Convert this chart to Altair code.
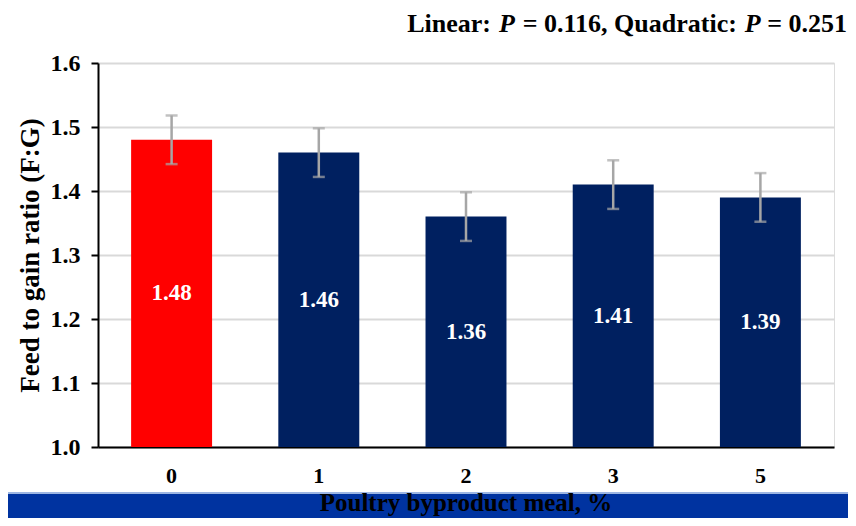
import altair as alt
import pandas as pd

categories = ["0", "1", "2", "3", "5"]
values = [1.48, 1.46, 1.36, 1.41, 1.39]
errors = [0.038, 0.038, 0.038, 0.038, 0.038]
colors = ["#FF0000", "#002060", "#002060", "#002060", "#002060"]
y_ticks = [1.0, 1.1, 1.2, 1.3, 1.4, 1.5, 1.6]
base_value = 1.0

df = pd.DataFrame({"cat": categories, "val": values, "se": errors, "color": colors})
df["lo"] = df["val"] - df["se"]
df["hi"] = df["val"] + df["se"]
df["base"] = base_value
df["mid"] = (df["val"] + df["base"]) / 2
df["label"] = df["val"].map(lambda v: f"{v:.2f}")

W, H = 736, 384
FONT = "Liberation Serif"

xs = alt.X("cat:N", sort=categories,
           scale=alt.Scale(paddingInner=0.45, paddingOuter=0.225),
           axis=alt.Axis(title=None, labelAngle=0, labelFont=FONT, labelFontSize=22,
                         labelFontWeight="bold", labelColor="black", labelPadding=18,
                         ticks=False, tickSize=0, domainColor="black", domainWidth=2))
ys = alt.Y("val:Q", scale=alt.Scale(domain=[1.0, 1.6], zero=False, nice=False),
           axis=alt.Axis(values=y_ticks, format=".1f", title="Feed to gain ratio (F:G)",
                         titleFont=FONT, titleFontSize=27, titleFontWeight="bold",
                         titleColor="black", titleAngle=-90, titleX=-60, titleY=H / 2,
                         titleAlign="center", titleBaseline="alphabetic",
                         labelFont=FONT, labelFontSize=24, labelFontWeight="bold",
                         labelColor="black", labelPadding=11,
                         tickSize=7, tickColor="black", tickWidth=2,
                         domainColor="black", domainWidth=2,
                         grid=True, gridColor="#d9d9d9", gridWidth=2))

base = alt.Chart(df)

bars = base.mark_bar().encode(
    x=xs,
    y=ys,
    y2=alt.Y2("base:Q"),
    color=alt.Color("color:N", scale=None),
)

err = base.mark_rule(color="#a6a6a6", strokeWidth=2.5).encode(
    x=alt.X("cat:N", sort=categories), y="lo:Q", y2="hi:Q")
cap_lo = base.mark_tick(color="#a6a6a6", thickness=2.5, size=12).encode(
    x=alt.X("cat:N", sort=categories), y="lo:Q")
cap_hi = base.mark_tick(color="#a6a6a6", thickness=2.5, size=12).encode(
    x=alt.X("cat:N", sort=categories), y="hi:Q")

labels = base.mark_text(color="white", font=FONT, fontSize=23, fontWeight="bold",
                        baseline="middle").encode(
    x=alt.X("cat:N", sort=categories), y="mid:Q", text="label:N")

# Title segments (mixed upright / italic)
tf = 26
ty = -31
def seg(txt, x, italic=False):
    return alt.Chart(df.head(1)).mark_text(
        text=txt, font=FONT, fontSize=tf, fontWeight="bold",
        fontStyle="italic" if italic else "normal", align="right",
        baseline="alphabetic", color="black").encode(
        x=alt.value(x), y=alt.value(ty))

t5 = seg("= 0.251", 749)
t4 = seg("P", 662.7, True)
t3 = seg("= 0.116, Quadratic:", 638.9)
t2 = seg("P", 416.8, True)
t1 = seg("Linear:", 393.0)

band_light = alt.Chart(df.head(1)).mark_rect(color="#9db6e3").encode(
    x=alt.value(-100), x2=alt.value(W + 40), y=alt.value(429), y2=alt.value(431))
band = alt.Chart(df.head(1)).mark_rect(color="#0033a0").encode(
    x=alt.value(-100), x2=alt.value(W + 40), y=alt.value(431), y2=alt.value(470))
xtitle = alt.Chart(df.head(1)).mark_text(
    text="Poultry byproduct meal, %", font=FONT, fontSize=25, fontWeight="bold",
    align="center", baseline="alphabetic", color="black").encode(
    x=alt.value(W / 2), y=alt.value(448))

chart = alt.layer(bars, err, cap_lo, cap_hi, labels, t1, t2, t3, t4, t5,
                  band_light, band, xtitle).properties(
    width=W, height=H,
    autosize=alt.AutoSizeParams(type="none"),
    padding={"left": 90, "top": 55, "right": 14, "bottom": 71},
).configure_view(stroke=None).configure(background="white")

chart.save("out.html", embed_options={"renderer": "svg", "actions": False})
